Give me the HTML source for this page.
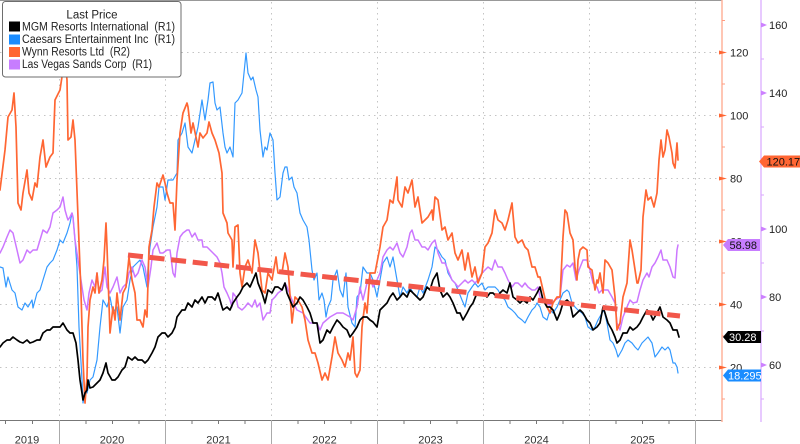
<!DOCTYPE html>
<html><head><meta charset="utf-8"><style>
html,body{margin:0;padding:0;background:#fff;}
svg{display:block;font-family:"Liberation Sans",Arial,sans-serif;}
</style></head><body>
<svg width="800" height="444" viewBox="0 0 800 444" xmlns="http://www.w3.org/2000/svg">
<rect width="800" height="444" fill="#fff"/>
<line x1="0" y1="0.5" x2="722" y2="0.5" stroke="#999" stroke-width="1"/>
<g stroke="#c4c4c4" stroke-width="1" stroke-dasharray="1.5 4">
<line x1="0" y1="52.5" x2="722" y2="52.5"/>
<line x1="0" y1="115.5" x2="722" y2="115.5"/>
<line x1="0" y1="178.5" x2="722" y2="178.5"/>
<line x1="0" y1="241.5" x2="722" y2="241.5"/>
<line x1="0" y1="304.5" x2="722" y2="304.5"/>
<line x1="0" y1="367.5" x2="722" y2="367.5"/>
<line x1="59.5" y1="2" x2="59.5" y2="420"/>
<line x1="165.5" y1="2" x2="165.5" y2="420"/>
<line x1="271.5" y1="2" x2="271.5" y2="420"/>
<line x1="377.5" y1="2" x2="377.5" y2="420"/>
<line x1="483.5" y1="2" x2="483.5" y2="420"/>
<line x1="589.5" y1="2" x2="589.5" y2="420"/>
<line x1="695.5" y1="2" x2="695.5" y2="420"/>
</g>
<line x1="0" y1="420.5" x2="722" y2="420.5" stroke="#777" stroke-width="1"/>
<g stroke="#aaa" stroke-width="1">
<line x1="59.5" y1="420" x2="59.5" y2="444"/>
<line x1="165.5" y1="420" x2="165.5" y2="444"/>
<line x1="271.5" y1="420" x2="271.5" y2="444"/>
<line x1="377.5" y1="420" x2="377.5" y2="444"/>
<line x1="483.5" y1="420" x2="483.5" y2="444"/>
<line x1="589.5" y1="420" x2="589.5" y2="444"/>
<line x1="695.5" y1="420" x2="695.5" y2="444"/>
</g>
<g stroke="#777" stroke-width="1">
<line x1="5.5" y1="420" x2="5.5" y2="424"/><line x1="32.5" y1="420" x2="32.5" y2="424"/>
<line x1="86" y1="420" x2="86" y2="424"/><line x1="112.5" y1="420" x2="112.5" y2="424"/><line x1="139" y1="420" x2="139" y2="424"/>
<line x1="192" y1="420" x2="192" y2="424"/><line x1="218.5" y1="420" x2="218.5" y2="424"/><line x1="245" y1="420" x2="245" y2="424"/>
<line x1="298" y1="420" x2="298" y2="424"/><line x1="324.5" y1="420" x2="324.5" y2="424"/><line x1="351" y1="420" x2="351" y2="424"/>
<line x1="404" y1="420" x2="404" y2="424"/><line x1="430.5" y1="420" x2="430.5" y2="424"/><line x1="457" y1="420" x2="457" y2="424"/>
<line x1="510" y1="420" x2="510" y2="424"/><line x1="536.5" y1="420" x2="536.5" y2="424"/><line x1="563" y1="420" x2="563" y2="424"/>
<line x1="616" y1="420" x2="616" y2="424"/><line x1="642.5" y1="420" x2="642.5" y2="424"/><line x1="669" y1="420" x2="669" y2="424"/>
</g>
<g font-size="11" fill="#333" text-anchor="middle">
<text x="27" y="443.5">2019</text>
<text x="112" y="443.5">2020</text>
<text x="218.5" y="443.5">2021</text>
<text x="324.5" y="443.5">2022</text>
<text x="430.5" y="443.5">2023</text>
<text x="536.5" y="443.5">2024</text>
<text x="642.5" y="443.5">2025</text>
</g>

<!-- Axes right -->
<line x1="722" y1="0" x2="722" y2="422" stroke="#ffb49c" stroke-width="1.5"/>
<line x1="761" y1="0" x2="761" y2="422" stroke="#d9a6ff" stroke-width="1.2"/>
<g fill="#ff6633">
<polygon points="719,50.5 727,52.5 719,54.5"/>
<polygon points="719,113.5 727,115.5 719,117.5"/>
<polygon points="719,176.5 727,178.5 719,180.5"/>
<polygon points="719,239.5 727,241.5 719,243.5"/>
<polygon points="719,302.5 727,304.5 719,306.5"/>
<polygon points="719,365.5 727,367.5 719,369.5"/>
</g>
<g stroke="#ff9c80" stroke-width="1">
<line x1="722" y1="20.5" x2="725" y2="20.5"/><line x1="722" y1="84" x2="725" y2="84"/>
<line x1="722" y1="147" x2="725" y2="147"/><line x1="722" y1="210" x2="725" y2="210"/>
<line x1="722" y1="273" x2="725" y2="273"/><line x1="722" y1="336" x2="725" y2="336"/>
<line x1="722" y1="399" x2="725" y2="399"/>
</g>
<g font-size="11" fill="#222">
<text x="730" y="56.5">120</text>
<text x="730" y="119.5">100</text>
<text x="730" y="182.5">80</text>
<text x="730" y="245.5">60</text>
<text x="730" y="308.5">40</text>
<text x="730" y="371.5">20</text>
</g>
<g fill="#cc80ff">
<polygon points="761,22.5 767,25 761,27.5"/>
<polygon points="761,90.5 767,93 761,95.5"/>
<polygon points="761,158.5 767,161 761,163.5"/>
<polygon points="761,226.5 767,229 761,231.5"/>
<polygon points="761,294.5 767,297 761,299.5"/>
<polygon points="761,362.5 767,365 761,367.5"/>
</g>
<g stroke="#d9a6ff" stroke-width="1">
<line x1="761" y1="59" x2="764" y2="59"/><line x1="761" y1="127" x2="764" y2="127"/>
<line x1="761" y1="195" x2="764" y2="195"/><line x1="761" y1="263" x2="764" y2="263"/>
<line x1="761" y1="331" x2="764" y2="331"/><line x1="761" y1="399" x2="764" y2="399"/>
</g>
<g font-size="11" fill="#222">
<text x="769" y="29">160</text>
<text x="769" y="97">140</text>
<text x="769" y="165">120</text>
<text x="769" y="233">100</text>
<text x="769" y="301">80</text>
<text x="769" y="369">60</text>
</g>

<!-- Series -->
<g fill="none" stroke-linejoin="round" stroke-linecap="round">
<polyline stroke="#3399ff" stroke-width="1.2" points="0,267 3,268 6,287 8,277 12,290 15,293 18,307 22,310 25,303 28,307 32,300 33,308 37,293 40,290 43,280 47,267 50,263 53,260 57,250 60,240 63,243 67,233 70,223 72,213 73,217 75,240 77,267 79,327 82,380 83,403 85,393 87,393 90,380 93,377 97,360 100,327 103,300 107,307 110,297 113,313 117,307 120,333 123,307 127,300 130,280 133,267 137,263 140,260 143,267 147,287 148,267 150,247 153,227 157,207 159,187 163,187 165,200 168,180 173,180 177,173 178,140 182,133 185,123 188,147 192,153 195,140 198,127 202,100 205,120 208,100 210,83 213,82 215,103 217,110 220,107 223,133 225,147 227,153 230,147 233,157 235,103 238,100 242,93 244,73 246,53 248,73 251,80 253,77 256,90 258,97 260,130 263,157 265,147 267,150 270,133 273,140 275,173 277,200 280,197 283,173 285,167 287,167 289,180 292,177 294,187 297,193 300,213 303,220 307,227 309,240 312,270 314,280 317,273 319,300 322,293 324,300 326,317 328,307 331,300 333,280 337,270 340,290 343,297 346,273 348,307 352,323 355,327 357,297 360,293 363,267 367,273 370,273 373,280 377,297 380,280 383,263 387,257 390,267 393,257 397,280 400,297 403,287 407,293 410,287 413,293 417,297 420,287 423,293 428,280 432,267 435,247 438,250 442,257 445,260 448,273 452,280 455,283 458,290 462,300 465,307 468,293 472,287 475,283 478,287 482,283 485,290 488,287 492,287 495,287 498,290 502,297 505,300 508,307 512,310 515,313 518,317 522,320 525,323 528,317 532,310 535,307 537,303 540,307 543,317 547,320 550,310 553,313 557,307 560,300 563,293 567,290 569,292 572,303 575,307 578,310 582,313 585,317 588,327 592,330 595,327 598,320 602,313 604,310 607,323 610,340 613,343 616,350 618,357 622,350 625,343 628,340 632,343 635,347 638,350 642,343 645,340 648,337 652,343 655,357 658,353 662,347 665,350 668,347 670,350 673,363 675,363 677,367 678,373"/>
<polyline stroke="#cc77ff" stroke-width="1.5" points="0,253 3,247 7,237 10,230 13,233 17,250 20,263 23,260 27,250 30,253 33,250 37,250 40,240 43,230 47,233 50,227 53,213 57,210 60,207 63,197 65,210 67,217 68,220 70,217 72,213 73,217 75,240 78,260 82,287 84,300 87,310 89,293 92,280 95,287 97,273 99,293 102,290 105,267 107,287 110,293 113,287 117,277 120,293 123,287 127,283 129,273 132,267 135,277 138,273 142,260 145,267 148,287 151,267 153,250 157,243 160,253 163,253 167,250 170,250 173,273 175,277 177,253 180,237 183,233 187,230 189,230 192,237 195,233 198,240 202,240 203,247 207,247 210,250 213,253 217,257 220,263 222,273 224,287 227,293 230,300 232,307 233,293 236,297 238,307 242,310 245,307 248,303 252,307 255,300 257,307 260,303 263,320 267,313 270,313 272,300 275,297 278,293 282,290 285,283 287,287 292,300 297,310 303,313 310,323 317,323 320,330 323,323 330,317 337,313 343,313 350,317 353,320 357,307 360,287 363,300 367,283 370,277 373,287 377,280 380,273 383,257 387,250 390,247 393,250 397,243 400,253 403,257 407,247 410,233 412,230 415,240 418,240 422,247 425,247 428,250 432,243 435,240 438,253 442,263 445,263 448,270 452,280 455,283 458,287 462,283 465,280 468,283 472,280 475,283 478,280 482,273 485,270 488,267 492,270 495,260 498,267 502,267 505,273 508,280 512,287 515,283 518,283 522,287 525,283 528,287 532,290 535,290 538,287 540,297 545,303 550,305 555,300 560,297 563,270 567,265 570,267 573,263 576,280 579,270 583,260 587,260 590,270 593,283 597,287 599,293 602,290 605,290 608,290 612,297 615,303 617,323 620,330 623,317 627,307 630,300 633,303 637,302 640,290 643,280 647,273 649,277 652,267 655,263 658,257 661,250 663,260 667,260 670,267 673,277 675,278 677,250 678,245"/>
<polyline stroke="#ff6633" stroke-width="1.7" points="0,190 5,150 8,117 12,110 14,93 16,127 18,203 21,210 23,193 27,170 29,193 32,200 35,183 37,187 40,157 43,140 46,167 50,157 53,153 55,100 60,90 63,70 65,58 67,80 68,140 71,137 73,120 75,140 78,217 81,293 83,360 85,403 87,377 88,327 90,300 93,287 95,293 97,273 99,293 102,280 104,260 106,223 107,247 110,333 113,307 115,320 117,293 120,320 123,293 126,287 129,257 132,280 135,293 137,320 140,320 143,327 145,310 147,317 149,247 152,230 154,207 157,183 159,187 163,175 165,183 167,193 170,203 173,203 175,230 177,180 180,133 183,113 187,103 188,107 191,133 193,123 196,137 198,147 200,133 203,138 207,133 209,122 212,133 215,140 219,153 222,173 223,213 227,223 228,233 232,240 233,267 235,227 238,225 240,273 242,287 245,267 248,260 252,273 255,240 258,253 262,290 265,293 268,273 272,280 276,257 278,273 282,273 285,253 288,267 292,323 295,297 298,300 302,307 305,320 308,340 312,353 315,353 318,363 322,380 325,373 328,380 332,357 335,337 338,353 342,360 345,367 348,353 350,360 353,337 355,373 357,377 360,370 362,327 365,303 367,313 370,273 375,273 380,247 383,227 387,220 390,200 393,203 397,177 398,200 402,207 405,187 408,193 412,180 415,207 418,197 422,223 425,220 428,217 432,210 433,220 435,197 438,200 442,230 445,227 448,240 452,233 455,253 458,260 462,250 465,270 468,253 472,277 475,267 478,283 482,273 485,247 488,243 492,233 495,210 498,220 502,223 505,230 508,220 512,203 515,237 518,243 522,240 525,247 528,250 532,267 535,267 538,277 540,277 543,290 547,307 550,313 553,303 557,297 560,297 563,237 565,210 567,213 570,233 573,240 575,267 577,280 578,260 580,250 583,247 587,250 588,267 592,270 595,290 597,280 598,283 600,273 603,293 605,260 608,263 612,270 615,297 617,330 620,323 623,297 627,283 630,240 632,250 634,263 637,283 638,283 641,270 643,217 646,190 648,200 651,197 654,207 657,193 659,160 661,140 663,157 665,150 667,130 669,137 672,153 673,163 675,168 677,143 678,160"/>
<polyline stroke="#000" stroke-width="1.7" points="0,347 3,343 7,340 10,340 13,337 17,340 20,342 23,343 27,340 30,343 33,342 37,340 40,340 43,333 47,330 50,330 53,327 57,327 60,327 63,323 67,330 70,333 73,333 76,343 78,360 80,380 82,393 83,400 85,393 87,390 88,380 90,388 93,387 97,383 100,380 103,373 106,363 108,373 112,380 115,380 118,377 122,370 125,367 128,357 132,360 135,357 138,360 142,360 145,363 148,360 152,353 155,347 158,337 162,333 165,333 168,337 172,333 175,327 177,317 182,310 185,310 188,303 192,307 195,300 198,303 202,297 205,303 208,297 212,297 215,300 218,293 222,307 223,310 227,307 230,310 233,303 237,297 240,293 243,287 247,283 250,287 253,280 256,273 258,283 262,293 265,303 268,290 272,293 275,287 278,287 282,290 285,283 287,293 290,300 293,307 297,303 300,297 303,300 307,307 310,313 313,323 317,323 320,343 323,340 327,330 330,333 333,327 337,320 340,323 343,327 347,330 350,337 353,333 357,327 360,320 363,317 367,317 370,320 373,322 377,327 380,310 383,307 387,303 390,297 393,293 397,300 400,297 403,293 407,297 410,290 413,293 417,297 420,300 423,297 427,287 430,290 433,280 437,273 440,290 443,297 447,293 450,297 453,303 457,313 460,313 463,320 467,313 470,307 473,303 477,293 480,293 483,293 487,297 490,293 493,293 497,297 500,293 503,290 507,293 510,283 513,297 517,300 520,303 523,300 527,303 530,297 533,300 537,293 540,287 543,300 547,307 550,307 553,310 557,320 560,313 563,303 567,300 570,303 573,317 577,313 580,310 583,313 587,320 590,323 593,330 597,327 600,323 603,307 605,313 608,323 612,330 615,337 617,343 620,340 623,333 627,333 630,327 633,330 637,327 640,323 643,317 647,310 650,313 653,320 657,313 660,307 663,317 667,320 670,323 673,330 677,330 679,337"/>
</g>
<line x1="128" y1="255" x2="680" y2="316" stroke="#f2574a" stroke-width="5" stroke-dasharray="15 6.7"/>

<!-- Price labels -->
<polygon points="759,161.5 764,155.5 800,155.5 800,167.5 764,167.5" fill="#ff6633"/>
<text x="766.5" y="165.5" font-size="11" fill="#111">120.17</text>
<polygon points="723,245 728,239 760,239 760,251 728,251" fill="#c77dff"/>
<text x="729.5" y="249" font-size="11" fill="#111">58.98</text>
<polygon points="723,337 728,331 761,331 761,343 728,343" fill="#000"/>
<text x="729" y="341" font-size="11" fill="#fff">30.28</text>
<polygon points="723,375.5 728,369.5 761,369.5 761,381.5 728,381.5" fill="#1a8cff"/>
<text x="728" y="379.5" font-size="11" fill="#fff">18.295</text>

<!-- Legend -->
<rect x="2.5" y="1.5" width="178.5" height="75.5" rx="3" fill="#fff" stroke="#6e6e6e" stroke-width="1"/>
<text x="92" y="18.5" font-size="11.5" fill="#222" text-anchor="middle">Last Price</text>
<rect x="9" y="21.5" width="11" height="10" fill="#000"/>
<rect x="9" y="34.5" width="11" height="10" fill="#1a8cff"/>
<rect x="9" y="47" width="11" height="10" fill="#ff6633"/>
<rect x="9" y="59.5" width="11" height="10" fill="#c77dff"/>
<g font-size="11.5" fill="#222">
<text x="22" y="30.5" textLength="153" lengthAdjust="spacingAndGlyphs">MGM Resorts International&#160;&#160;(R1)</text>
<text x="22" y="43" textLength="153" lengthAdjust="spacingAndGlyphs">Caesars Entertainment Inc&#160;&#160;(R1)</text>
<text x="22" y="55.5" textLength="108" lengthAdjust="spacingAndGlyphs">Wynn Resorts Ltd&#160;&#160;(R2)</text>
<text x="22" y="68" textLength="130" lengthAdjust="spacingAndGlyphs">Las Vegas Sands Corp&#160;&#160;(R1)</text>
</g>
</svg>
</body></html>
